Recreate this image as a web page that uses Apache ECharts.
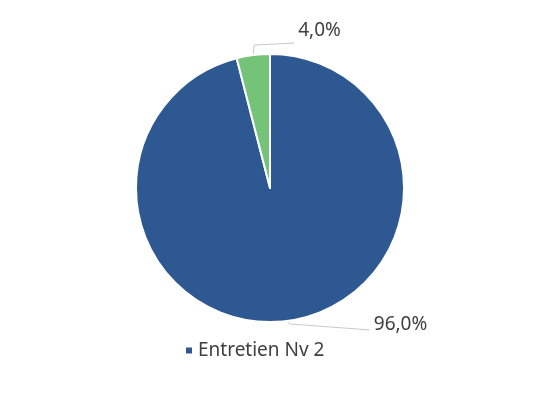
<!DOCTYPE html>
<html>
<head>
    <meta charset="utf-8">
    <title>ECharts</title>
    <script src="https://cdn.jsdelivr.net/npm/echarts@6/dist/echarts.min.js"></script>
</head>
<body style="margin:0;background:#fff;">
    <div id="main" style="width:538px;height:397px;"></div>
    <script type="text/javascript">
        // data
        var names = ['Entretien Nv 2', 'Autre'];
        var values = [96.0, 4.0];
        var colors = ['#2d5891', '#74c378'];
        var legendNames = ['Entretien Nv 2'];

        var myChart = echarts.init(document.getElementById('main'));

        var pieData = names.map(function (n, i) {
            return { name: n, value: values[i], itemStyle: { color: colors[i] } };
        });

        var option = {
            backgroundColor: '#fff',
            animation: false,
            legend: {
                data: legendNames,
                left: 179,
                top: 336,
                icon: 'rect',
                itemWidth: 8,
                itemHeight: 8,
                itemGap: 7,
                textStyle: { fontFamily: 'Noto Sans', fontSize: 19, color: '#404040' }
            },
            series: [{
                type: 'pie',
                center: [270, 188],
                radius: 134,
                startAngle: 90,
                clockwise: true,
                data: pieData,
                itemStyle: { borderColor: '#fff', borderWidth: 2 },
                label: {
                    show: true,
                    position: 'outside',
                    fontFamily: 'Noto Sans',
                    fontSize: 19,
                    color: '#404040',
                    formatter: function (p) {
                        return p.value.toFixed(1).replace('.', ',') + '%';
                    }
                },
                labelLine: {
                    show: true,
                    lineStyle: { color: '#c8c8c8', width: 1 }
                },
                labelLayout: function (p) {
                    var p0 = p.labelLinePoints[0];
                    if (p.dataIndex === 1) {
                        return {
                            x: p0[0] + 45, y: p0[1] - 24, align: 'left', verticalAlign: 'middle',
                            labelLinePoints: [p0, [p0[0] + 1, p0[1] - 10], [p0[0] + 41, p0[1] - 12]]
                        };
                    }
                    return {
                        x: p0[0] + 87, y: p0[1] + 4, align: 'left', verticalAlign: 'middle',
                        labelLinePoints: [p0, [p0[0] + 3, p0[1] + 3], [p0[0] + 83, p0[1] + 9]]
                    };
                }
            }]
        };

        myChart.setOption(option);
    </script>
</body>
</html>
